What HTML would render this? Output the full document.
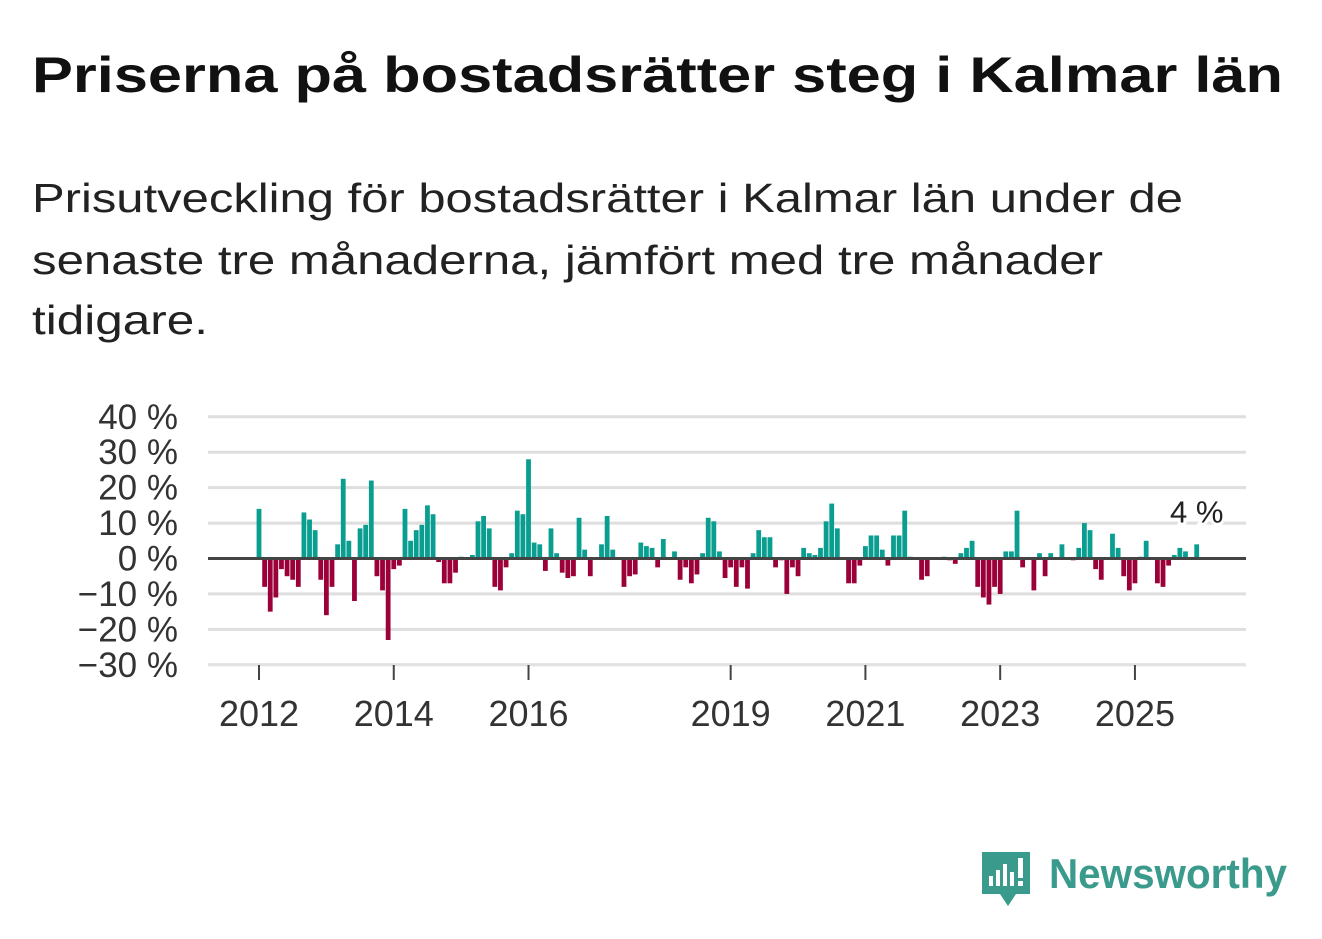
<!DOCTYPE html>
<html><head><meta charset="utf-8"><style>
html,body{margin:0;padding:0;background:#fff;}
svg{display:block;font-family:"Liberation Sans","DejaVu Sans",sans-serif;}
</style></head><body>
<svg id="chart" width="1322" height="939" viewBox="0 0 1322 939" xmlns="http://www.w3.org/2000/svg">
<text x="32" y="92" font-size="50" font-weight="bold" fill="#111" textLength="1251" lengthAdjust="spacingAndGlyphs">Priserna på bostadsrätter steg i Kalmar län</text>
<g font-size="41" fill="#222">
<text x="32" y="212" textLength="1151" lengthAdjust="spacingAndGlyphs">Prisutveckling för bostadsrätter i Kalmar län under de</text>
<text x="32" y="274" textLength="1071" lengthAdjust="spacingAndGlyphs">senaste tre månaderna, jämfört med tre månader</text>
<text x="32" y="334" textLength="176" lengthAdjust="spacingAndGlyphs">tidigare.</text>
</g>
<g id="grid"></g>
<g id="bars"></g>
<g id="axes"></g>
<g>
<path d="M982 852 h48 v42 h-14 l-8 12 l-8 -12 h-18 z" fill="#3a9a8c"/>
<rect x="989" y="876" width="4" height="10" fill="#fff"/><rect x="996" y="870" width="4" height="16" fill="#fff"/><rect x="1003" y="864" width="4" height="22" fill="#fff"/><rect x="1010" y="872" width="4" height="14" fill="#fff"/><rect x="1018" y="858" width="5" height="20" fill="#fff"/><rect x="1018" y="881" width="5" height="5" fill="#fff"/>
<text x="1049" y="888" font-size="42" font-weight="bold" fill="#3a9a8c" textLength="238" lengthAdjust="spacingAndGlyphs">Newsworthy</text>
</g>
</svg>
<script>
const values = [14,-8,-15,-11,-3,-5,-6,-8,13,11,8,-6,
-16,-8,4,22.5,5,-12,8.5,9.5,22,-5,-9,-23,
-3,-2,14,5,8,9.5,15,12.5,-1,-7,-7,-4,
0.5,0,1,10.5,12,8.5,-8,-9,-2.5,1.5,13.5,12.5,
28,4.5,4,-3.5,8.5,1.5,-4,-5.5,-5,11.5,2.5,-5,
0,4,12,2.5,0,-8,-5,-4.5,4.5,3.5,3,-2.5,
5.5,0,2,-6,-2.5,-7,-4.5,1.5,11.5,10.5,2,-5.5,
-2.5,-8,-2.5,-8.5,1.5,8,6,6,-2.5,-0.5,-10,-2.5,
-5,3,1.5,1,3,10.5,15.5,8.5,-0.3,-7,-7,-2,
3.5,6.5,6.5,2.5,-2,6.5,6.5,13.5,0.5,-0.3,-6,-5,
-0.3,0,0.5,-0.5,-1.5,1.5,3,5,-8,-11,-13,-8,
-10,2,2,13.5,-2.5,0,-9,1.5,-5,1.5,0,4,
0,-0.5,3,10,8,-3,-6,0,7,3,-5,-9,
-7,0.5,5,0,-7,-8,-2,1,3,2,0,4];
const startYear = 2012;
const yTicks = [40,30,20,10,0,-10,-20,-30];
const yearTicks = [2012,2014,2016,2019,2021,2023,2025];
const NS="http://www.w3.org/2000/svg";
const y = v => 558.5 - v*3.543;
const x = m => 259 + m*5.615;
function mk(tag, attrs, parent){const e=document.createElementNS(NS,tag);for(const k in attrs)e.setAttribute(k,attrs[k]);parent.appendChild(e);return e;}
const grid=document.getElementById('grid'), bars=document.getElementById('bars'), axes=document.getElementById('axes');
yTicks.forEach(t=>{
  if(t!==0){const l=mk('line',{x1:208,x2:1246,y1:y(t),y2:y(t),stroke:'#dedede','stroke-width':3},grid);
  
  }
  const tx=mk('text',{x:178,y:y(t)+12,'text-anchor':'end','font-size':35,fill:'#333'},axes);
  tx.textContent=(t<0?'\u2212'+(-t):t)+' %';
  
  
});
const base=mk('line',{x1:208,x2:1246,y1:665,y2:665,stroke:'#e4e4e4','stroke-width':1.5},axes);


values.forEach((v,i)=>{
  const y0=y(0), y1=y(v);
  const r=mk('rect',{x:x(i)-2.4,y:Math.min(y0,y1),width:4.8,height:Math.max(Math.abs(y1-y0),0.6),fill:v>=0?'#0a9e91':'#9b0039'},bars);
  
  
});
const zl=mk('line',{x1:208,x2:1246,y1:y(0),y2:y(0),stroke:'#444','stroke-width':3},axes);


yearTicks.forEach(yr=>{
  const px=x((yr-startYear)*12);
  const t=mk('line',{x1:px,x2:px,y1:665,y2:680,stroke:'#444','stroke-width':2},axes);
  
  
  const tx=mk('text',{x:px,y:726,'text-anchor':'middle','font-size':36,fill:'#333'},axes);
  tx.textContent=yr;
  
  
});
const last=values.length-1;
const lbl=mk('text',{x:x(last),y:y(values[last])-22,'text-anchor':'middle','font-size':31,fill:'#222',stroke:'#fff','stroke-width':6,'paint-order':'stroke'},axes);
lbl.textContent=Math.round(values[last])+' %';


</script>
</body></html>
